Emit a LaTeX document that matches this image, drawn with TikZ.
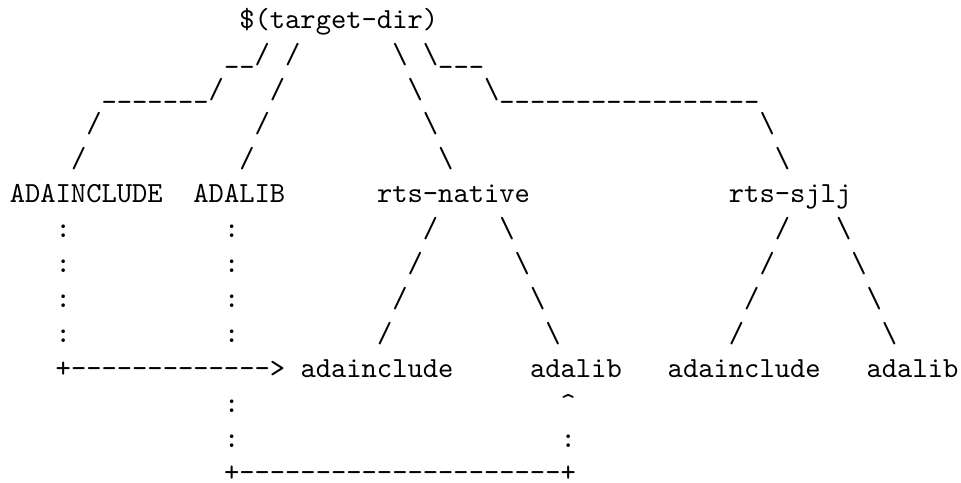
\documentclass[tikz,border=0pt]{standalone}
\tikzset{
  tok/.style={anchor=base west, inner sep=0pt, outer sep=0pt,
    font=\ttfamily\fontsize{10}{12}\selectfont, text=black}
}
\newcommand\tok[4]{\node[tok] (#1) at ({9.8+15.3*(#2)},{482-34.9*(13-(#3))}) {#4};}
\newcommand\bs{\textbackslash}
\begin{document}
\begin{tikzpicture}[x=0.34315pt,y=-0.34315pt]
\useasboundingbox (0,0) rectangle (961,483);
% line 0
\tok{root}{15}{0}{\$(target-dir)}
% line 1
\tok{la}{14}{1}{\_\_/}
\tok{lb}{18}{1}{/}
\tok{lc}{25}{1}{\bs}
\tok{ld}{27}{1}{\bs\_\_\_}
% line 2
\tok{ma}{6}{2}{\_\_\_\_\_\_\_/}
\tok{mb}{17}{2}{/}
\tok{mc}{26}{2}{\bs}
\tok{md}{31}{2}{\bs\_\_\_\_\_\_\_\_\_\_\_\_\_\_\_\_\_}
% line 3
\tok{na}{5}{3}{/}
\tok{nb}{16}{3}{/}
\tok{nc}{27}{3}{\bs}
\tok{nd}{49}{3}{\bs}
% line 4
\tok{oa}{4}{4}{/}
\tok{ob}{15}{4}{/}
\tok{oc}{28}{4}{\bs}
\tok{od}{50}{4}{\bs}
% line 5
\tok{ADAINCLUDE}{0}{5}{ADAINCLUDE}
\tok{ADALIB}{12}{5}{ADALIB}
\tok{rtsnative}{24}{5}{rts-native}
\tok{rtssjlj}{47}{5}{rts-sjlj}
% lines 6-9
\foreach \k in {0,1,2,3}{
  \tok{ca\k}{3}{6+\k}{:}
  \tok{cb\k}{14}{6+\k}{:}
  \tok{cc\k}{27-\k}{6+\k}{/}
  \tok{cd\k}{32+\k}{6+\k}{\bs}
  \tok{ce\k}{50-\k}{6+\k}{/}
  \tok{cf\k}{54+\k}{6+\k}{\bs}
}
% line 10
\tok{arrow}{3}{10}{+-{}-{}-{}-{}-{}-{}-{}-{}-{}-{}-{}-{}-{}>}
\tok{nadainclude}{19}{10}{adainclude}
\tok{nadalib}{34}{10}{adalib}
\tok{sadainclude}{43}{10}{adainclude}
\tok{sadalib}{56}{10}{adalib}
% line 11
\tok{pa}{14}{11}{:}
\tok{pb}{36}{11}{\textasciicircum}
% line 12
\tok{qa}{14}{12}{:}
\tok{qb}{36}{12}{:}
% line 13
\tok{loop}{14}{13}{+-{}-{}-{}-{}-{}-{}-{}-{}-{}-{}-{}-{}-{}-{}-{}-{}-{}-{}-{}-{}-{}+}
\end{tikzpicture}
\end{document}
